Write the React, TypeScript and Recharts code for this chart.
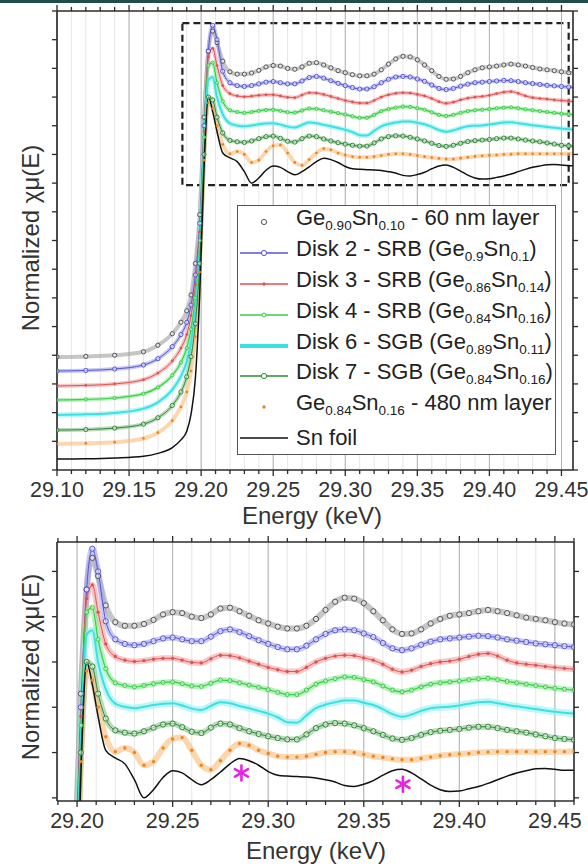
import React from 'react';
import {
  LineChart,
  Line,
  XAxis,
  YAxis,
  CartesianGrid,
  ReferenceLine,
  ReferenceArea,
  ReferenceDot,
  Legend,
} from 'recharts';

const FONT = '"Liberation Sans", Arial, Helvetica, sans-serif';
const AXIS = '#2b2b2b';

// Energy grid (keV)
const ENERGY = [
  29.1, 29.12, 29.14, 29.16, 29.17, 29.18, 29.186, 29.19, 29.193, 29.196, 29.199, 29.202, 29.205, 29.208, 29.211,
  29.215, 29.22, 29.225, 29.23, 29.235, 29.24, 29.245, 29.25, 29.255, 29.26, 29.265, 29.27, 29.275, 29.28, 29.285,
  29.29, 29.295, 29.3, 29.305, 29.31, 29.315, 29.32, 29.325, 29.33, 29.335, 29.34, 29.345, 29.35, 29.355, 29.36,
  29.365, 29.37, 29.375, 29.38, 29.385, 29.39, 29.395, 29.4, 29.405, 29.41, 29.415, 29.42, 29.425, 29.43, 29.435,
  29.44, 29.445, 29.45, 29.455, 29.46,
];

// Normalized absorption, vertically offset for clarity
const FILM_60NM = [
  3.94, 3.96, 4.0, 4.12, 4.35, 4.75, 5.15, 5.55, 6.1, 7.2, 8.9, 12.3, 14.6, 15.3, 14.9,
  14.25, 13.88, 13.8, 13.8, 13.84, 13.93, 14.05, 14.1, 14.08, 14.0, 13.97, 14.05, 14.18, 14.2, 14.12,
  14.02, 13.92, 13.85, 13.78, 13.74, 13.74, 13.8, 13.95, 14.15, 14.33, 14.42, 14.4, 14.3, 14.12, 13.92,
  13.72, 13.62, 13.63, 13.72, 13.85, 13.95, 14.02, 14.05, 14.08, 14.12, 14.15, 14.12, 14.08, 14.03, 13.98,
  13.95, 13.92, 13.88, 13.85, 13.83,
];
const DISK2_SRB = [
  3.45, 3.47, 3.52, 3.66, 3.88, 4.3, 4.72, 5.15, 5.75, 6.8, 8.6, 12.0, 14.6, 15.5, 15.0,
  13.9, 13.5, 13.4, 13.37, 13.4, 13.46, 13.52, 13.54, 13.5, 13.46, 13.46, 13.56, 13.68, 13.72, 13.66,
  13.57, 13.48, 13.4, 13.33, 13.28, 13.28, 13.36, 13.5, 13.62, 13.7, 13.72, 13.7, 13.63, 13.55, 13.42,
  13.3, 13.26, 13.3, 13.38, 13.45, 13.5, 13.52, 13.54, 13.56, 13.58, 13.57, 13.54, 13.5, 13.47, 13.44,
  13.41, 13.39, 13.37, 13.35, 13.33,
];
const DISK3_SRB = [
  2.93, 2.95, 3.0, 3.15, 3.38, 3.8, 4.25, 4.72, 5.38, 6.45, 8.3, 11.8, 14.4, 14.7, 14.1,
  13.4, 13.12, 13.04, 13.01, 13.03, 13.06, 13.08, 13.08, 13.04, 12.99, 12.98, 13.07, 13.15, 13.14, 13.09,
  13.02, 12.95, 12.88, 12.83, 12.79, 12.79, 12.88, 13.0, 13.08, 13.13, 13.15, 13.14, 13.09, 13.04, 12.95,
  12.84, 12.78, 12.82, 12.9, 12.96, 13.0, 13.02, 13.06, 13.12, 13.17, 13.19, 13.13, 13.04, 12.98, 12.95,
  12.93, 12.9, 12.88, 12.86, 12.84,
];
const DISK4_SRB = [
  2.44, 2.46, 2.51, 2.66, 2.88, 3.3, 3.75, 4.25, 4.9, 6.0, 8.0, 11.6, 14.1, 14.2, 13.5,
  12.85, 12.54, 12.48, 12.45, 12.48, 12.52, 12.55, 12.56, 12.52, 12.47, 12.46, 12.53, 12.6, 12.59, 12.54,
  12.49, 12.44, 12.39, 12.33, 12.28, 12.28, 12.38, 12.51, 12.58, 12.63, 12.67, 12.66, 12.61, 12.56, 12.47,
  12.38, 12.34, 12.38, 12.45, 12.51, 12.54, 12.56, 12.58, 12.61, 12.63, 12.64, 12.61, 12.57, 12.54, 12.51,
  12.48, 12.45, 12.42, 12.4, 12.38,
];
const DISK6_SGB = [
  1.92, 1.94, 1.99, 2.14, 2.36, 2.8, 3.27, 3.78, 4.48, 5.6, 7.65, 11.3, 13.6, 13.7, 13.0,
  12.4, 12.08, 12.01, 11.98, 12.01, 12.05, 12.08, 12.09, 12.04, 11.97, 11.94, 12.03, 12.11, 12.09, 12.03,
  11.98, 11.92, 11.86, 11.78, 11.67, 11.66, 11.82, 11.98, 12.06, 12.11, 12.15, 12.15, 12.1, 12.05, 11.96,
  11.85, 11.79, 11.84, 11.92, 11.98, 12.0, 12.01, 12.04, 12.08, 12.11, 12.12, 12.09, 12.05, 12.02, 11.99,
  11.96, 11.93, 11.9, 11.88, 11.86,
];
const DISK7_SGB = [
  1.39, 1.41, 1.46, 1.6, 1.82, 2.25, 2.72, 3.25, 3.95, 5.1, 7.2, 11.0, 13.0, 12.9, 12.3,
  11.75, 11.49, 11.44, 11.42, 11.47, 11.55, 11.62, 11.64, 11.56, 11.46, 11.43, 11.55, 11.64, 11.62, 11.54,
  11.47, 11.41, 11.36, 11.32, 11.29, 11.29, 11.4, 11.54, 11.62, 11.65, 11.64, 11.6, 11.54, 11.47, 11.39,
  11.31, 11.28, 11.32, 11.39, 11.45, 11.48, 11.5, 11.52, 11.55, 11.57, 11.57, 11.54, 11.5, 11.47, 11.44,
  11.4, 11.36, 11.32, 11.3, 11.28,
];
const FILM_480NM = [
  0.91, 0.93, 0.97, 1.1, 1.3, 1.72, 2.2, 2.72, 3.45, 4.65, 6.9, 10.8, 12.8, 12.6, 12.0,
  11.35, 11.02, 11.1, 11.0, 10.72, 10.8, 11.1, 11.3, 11.33, 11.05, 10.72, 10.62, 10.82, 11.05, 11.2,
  11.16, 11.05, 10.98, 10.92, 10.9, 10.9, 10.92, 10.96, 11.0, 11.02, 11.02, 11.0, 10.96, 10.92, 10.89,
  10.86, 10.84, 10.84, 10.87, 10.9, 10.93, 10.95, 10.97, 10.98, 11.0, 11.01, 11.02, 11.02, 11.02, 11.02,
  11.02, 11.02, 11.02, 11.02, 11.03,
];
const SN_FOIL = [
  0.38, 0.39, 0.42, 0.48, 0.58, 0.78, 1.05, 1.35, 1.95, 3.2, 6.1, 10.5, 13.0, 12.5, 11.8,
  11.05, 10.88, 10.75, 10.4, 10.0, 10.18, 10.45, 10.6, 10.55, 10.4, 10.29, 10.4, 10.57, 10.75, 10.87,
  10.82, 10.72, 10.58, 10.5, 10.48, 10.47, 10.46, 10.44, 10.4, 10.35, 10.27, 10.25, 10.3, 10.38, 10.5,
  10.6, 10.63, 10.55, 10.42, 10.28, 10.18, 10.14, 10.15, 10.2, 10.25, 10.32, 10.4, 10.48, 10.55, 10.6,
  10.64, 10.65, 10.63, 10.61, 10.61,
];

const TOP_MAJOR = [29.1, 29.15, 29.2, 29.25, 29.3, 29.35, 29.4, 29.45];
const TOP_MINOR = [
  29.1, 29.11, 29.12, 29.13, 29.14, 29.15, 29.16, 29.17, 29.18, 29.19, 29.2, 29.21, 29.22, 29.23, 29.24, 29.25,
  29.26, 29.27, 29.28, 29.29, 29.3, 29.31, 29.32, 29.33, 29.34, 29.35, 29.36, 29.37, 29.38, 29.39, 29.4, 29.41,
  29.42, 29.43, 29.44, 29.45,
];
const ZOOM_MAJOR = [29.2, 29.25, 29.3, 29.35, 29.4, 29.45];
const ZOOM_MINOR = [
  29.19, 29.2, 29.21, 29.22, 29.23, 29.24, 29.25, 29.26, 29.27, 29.28, 29.29, 29.3, 29.31, 29.32, 29.33, 29.34,
  29.35, 29.36, 29.37, 29.38, 29.39, 29.4, 29.41, 29.42, 29.43, 29.44, 29.45, 29.46,
];
const TOP_Y_TICKS = [0, 1, 2, 3, 4, 5, 6, 7, 8, 9, 10, 11, 12, 13, 14, 15, 16];
const ZOOM_Y_TICKS = [10, 11, 12, 13, 14, 15];

// region of the upper panel that is enlarged below
const ZOOM_X = [29.187, 29.455];
const ZOOM_Y = [9.93, 15.58];

// features of the Sn foil marked with asterisks
const MARKED_E = [29.286, 29.3705];
const MARKED_V = [10.55, 10.3];

const SERIES = [
  { key: 'film60', values: FILM_60NM, label: 'Ge_{0.90}Sn_{0.10} - 60 nm layer', color: '#555555', band: '#a0a0a0', line: false, width: 1, marker: 'circle' },
  { key: 'disk2', values: DISK2_SRB, label: 'Disk 2 - SRB (Ge_{0.9}Sn_{0.1})', color: '#5555d5', band: '#a3a3ee', line: true, width: 1, marker: 'circle' },
  { key: 'disk3', values: DISK3_SRB, label: 'Disk 3 - SRB (Ge_{0.86}Sn_{0.14})', color: '#e05252', band: '#f2a0a0', line: true, width: 1, marker: 'dot' },
  { key: 'disk4', values: DISK4_SRB, label: 'Disk 4 - SRB (Ge_{0.84}Sn_{0.16})', color: '#37cf45', band: '#8ee898', line: true, width: 1.2, marker: 'small' },
  { key: 'disk6', values: DISK6_SGB, label: 'Disk 6 - SGB (Ge_{0.89}Sn_{0.11})', color: '#3de0e0', band: '#8ff0f0', line: true, width: 2, marker: 'none' },
  { key: 'disk7', values: DISK7_SGB, label: 'Disk 7 - SGB (Ge_{0.84}Sn_{0.16})', color: '#2d8a33', band: '#8cc190', line: true, width: 1, marker: 'circle' },
  { key: 'film480', values: FILM_480NM, label: 'Ge_{0.84}Sn_{0.16} - 480 nm layer', color: '#f08418', band: '#f8bd7c', line: false, width: 1, marker: 'dot' },
  { key: 'snfoil', values: SN_FOIL, label: 'Sn foil', color: '#111111', band: '', line: true, width: 1.5, marker: 'none' },
];

const data = ENERGY.map((e, i) => {
  const row: Record<string, number> = { e };
  SERIES.forEach((s) => {
    row[s.key] = s.values[i];
  });
  return row;
});

const isMajor = (v: number, majors: number[]) => majors.some((m) => Math.abs(m - v) < 1e-6);

// bottom-axis tick: draws the outward tick on the bottom frame, the matching one on
// the top frame (plotHeight above) and the label for major ticks
const makeXTick = (majors: number[], plotHeight: number) => (props: any) => {
  const { x, y, payload } = props;
  if (!payload || typeof payload.value !== 'number') return <g />;
  const major = isMajor(payload.value, majors);
  const len = major ? 6 : 4;
  const top = y - plotHeight;
  return (
    <g>
      <line x1={x} x2={x} y1={y} y2={y + len} stroke={AXIS} strokeWidth={1.3} />
      <line x1={x} x2={x} y1={top} y2={top - len} stroke={AXIS} strokeWidth={1.3} />
      {major && (
        <text x={x} y={y + 27} textAnchor="middle" fontSize={21.5} fill="#333" fontFamily={FONT}>
          {payload.value.toFixed(2)}
        </text>
      )}
    </g>
  );
};

const makeYTick = (dir: number) => (props: any) => {
  const { x, y } = props;
  return <line x1={x} x2={x + dir * 5} y1={y} y2={y} stroke={AXIS} strokeWidth={1.3} />;
};

const dotFor = (s: (typeof SERIES)[number], r: number): any => {
  if (s.marker === 'circle') return { r, fill: '#ffffff', fillOpacity: 0.5, stroke: s.color, strokeWidth: 1 };
  if (s.marker === 'small') return { r: r * 0.75, fill: '#ffffff', fillOpacity: 0.5, stroke: s.color, strokeWidth: 1 };
  if (s.marker === 'dot') return { r: r * 0.65, fill: s.color, stroke: 'none' };
  return false;
};

function SubText({ text }: { text: string }) {
  const parts = text.split(/(_\{[^}]*\})/);
  return (
    <>
      {parts.map((p, i) =>
        p.startsWith('_{') ? (
          <span key={i} style={{ fontSize: 13.5, verticalAlign: -5 }}>
            {p.slice(2, -1)}
          </span>
        ) : (
          <span key={i}>{p}</span>
        )
      )}
    </>
  );
}

const renderLegend = () => (
  <div
    style={{
      width: 319,
      height: 250,
      border: '1.5px solid #555',
      background: '#fff',
      boxSizing: 'border-box',
      paddingTop: 1,
      fontFamily: FONT,
      fontSize: 22,
      color: '#222',
    }}
  >
    {SERIES.map((s) => {
      const dot = dotFor(s, 2.6);
      return (
        <div key={s.key} style={{ display: 'flex', alignItems: 'center', height: 30.8, whiteSpace: 'nowrap' }}>
          <svg width={56} height={20} style={{ flex: 'none' }}>
            {s.line && <line x1={2} x2={50} y1={10} y2={10} stroke={s.color} strokeWidth={s.key === 'disk6' ? 4 : 1.4} />}
            {dot && <circle cx={26} cy={10} r={dot.r} fill={dot.fill} stroke={dot.stroke} strokeWidth={1} />}
          </svg>
          <span style={{ marginLeft: 2, lineHeight: '22px' }}>
            <SubText text={s.label} />
          </span>
        </div>
      );
    })}
  </div>
);

const Asterisk = (props: any) => {
  const { cx, cy } = props;
  const r = 7.5;
  return (
    <g stroke="#e526e0" strokeWidth={2.6} strokeLinecap="round">
      {[90, 30, -30].map((a) => {
        const rad = (a * Math.PI) / 180;
        return (
          <line key={a} x1={cx - r * Math.cos(rad)} y1={cy - r * Math.sin(rad)} x2={cx + r * Math.cos(rad)} y2={cy + r * Math.sin(rad)} />
        );
      })}
    </g>
  );
};

interface PanelProps {
  height: number;
  margin: { top: number; right: number; bottom: number; left: number };
  xDomain: number[];
  yDomain: number[];
  major: number[];
  minor: number[];
  yTicks: number[];
  bandWidth: number;
  dotR: number;
  zoomPanel: boolean;
}

// axes get a 1px box (a zero-size axis is not drawn); margins compensate
function Panel({ height, margin, xDomain, yDomain, major, minor, yTicks, bandWidth, dotR, zoomPanel }: PanelProps) {
  const m = { top: margin.top, right: margin.right - 1, bottom: margin.bottom - 1, left: margin.left - 1 };
  const plotHeight = height - margin.top - margin.bottom;
  return (
    <LineChart width={588} height={height} data={data} margin={m}>
      <CartesianGrid horizontal={false} stroke="#e6e6e6" strokeWidth={1} />
      {major.map((t) => (
        <ReferenceLine key={t} x={t} stroke="#b3b3b3" strokeWidth={1} />
      ))}
      <ReferenceLine y={yDomain[1]} stroke={AXIS} strokeWidth={1.6} />
      <XAxis
        dataKey="e"
        type="number"
        domain={xDomain}
        allowDataOverflow
        ticks={minor}
        interval={0}
        height={1}
        tickSize={0}
        tickMargin={0}
        tickLine={false}
        tick={makeXTick(major, plotHeight)}
        axisLine={{ stroke: AXIS, strokeWidth: 1.6 }}
      />
      <YAxis
        type="number"
        domain={yDomain}
        allowDataOverflow
        ticks={yTicks}
        interval={0}
        width={1}
        tickSize={0}
        tickMargin={0}
        tickLine={false}
        tick={makeYTick(-1)}
        axisLine={{ stroke: AXIS, strokeWidth: 1.6 }}
      />
      <YAxis
        yAxisId="right"
        orientation="right"
        type="number"
        domain={yDomain}
        allowDataOverflow
        ticks={yTicks}
        interval={0}
        width={1}
        tickSize={0}
        tickMargin={0}
        tickLine={false}
        tick={makeYTick(1)}
        axisLine={{ stroke: AXIS, strokeWidth: 1.6 }}
      />
      {SERIES.map((s) =>
        s.band ? (
          <Line
            key={`${s.key}-band`}
            dataKey={s.key}
            type="monotone"
            stroke={s.band}
            strokeWidth={s.key === 'disk6' ? bandWidth + 1 : bandWidth}
            strokeOpacity={0.6}
            dot={false}
            activeDot={false}
            isAnimationActive={false}
          />
        ) : null
      )}
      {SERIES.map((s) => (
        <Line
          key={s.key}
          dataKey={s.key}
          type="monotone"
          stroke={s.line ? s.color : 'none'}
          strokeWidth={s.width}
          dot={dotFor(s, dotR)}
          activeDot={false}
          isAnimationActive={false}
        />
      ))}
      {!zoomPanel && (
        <ReferenceArea
          x1={ZOOM_X[0]}
          x2={ZOOM_X[1]}
          y1={ZOOM_Y[0]}
          y2={ZOOM_Y[1]}
          fill="none"
          stroke="#222"
          strokeWidth={2.2}
          strokeDasharray="7 4"
        />
      )}
      {zoomPanel &&
        MARKED_E.map((e, i) => (
          <ReferenceDot key={e} x={e} y={MARKED_V[i]} r={8} shape={(p: any) => <Asterisk {...p} />} />
        ))}
      {!zoomPanel && (
        <Legend
          layout="vertical"
          align="center"
          verticalAlign="middle"
          content={renderLegend}
          wrapperStyle={{ left: 237, top: 205, width: 319 }}
        />
      )}
    </LineChart>
  );
}

const titleStyle: React.CSSProperties = {
  position: 'absolute',
  fontFamily: FONT,
  fontSize: 24,
  lineHeight: 1,
  color: '#333',
  whiteSpace: 'nowrap',
};

export default function App() {
  return (
    <div style={{ position: 'absolute', left: 0, top: 0, width: 588, height: 866, background: '#fff', overflow: 'hidden' }}>
      <div style={{ position: 'absolute', left: 0, top: 0, width: 588, height: 3, background: '#1f4e4a' }} />
      <div style={{ position: 'absolute', left: 0, top: 0 }}>
        <Panel
          height={510}
          margin={{ top: 11, right: 15, bottom: 40, left: 57 }}
          xDomain={[29.1, 29.458]}
          yDomain={[0, 16]}
          major={TOP_MAJOR}
          minor={TOP_MINOR}
          yTicks={TOP_Y_TICKS}
          bandWidth={4}
          dotR={2.1}
          zoomPanel={false}
        />
      </div>
      <div style={{ position: 'absolute', left: 0, top: 520 }}>
        <Panel
          height={346}
          margin={{ top: 22, right: 14, bottom: 65, left: 57 }}
          xDomain={[29.1895, 29.46]}
          yDomain={[9.93, 15.65]}
          major={ZOOM_MAJOR}
          minor={ZOOM_MINOR}
          yTicks={ZOOM_Y_TICKS}
          bandWidth={6}
          dotR={2.6}
          zoomPanel
        />
      </div>
      <div style={{ ...titleStyle, left: 312, top: 504, transform: 'translateX(-50%)' }}>Energy (keV)</div>
      <div style={{ ...titleStyle, left: 316, top: 839, transform: 'translateX(-50%)' }}>Energy (keV)</div>
      <div style={{ ...titleStyle, left: 31, top: 238, transform: 'translate(-50%, -50%) rotate(-90deg)' }}>Normalized χμ(E)</div>
      <div style={{ ...titleStyle, left: 31, top: 667, transform: 'translate(-50%, -50%) rotate(-90deg)' }}>Normalized χμ(E)</div>
    </div>
  );
}
